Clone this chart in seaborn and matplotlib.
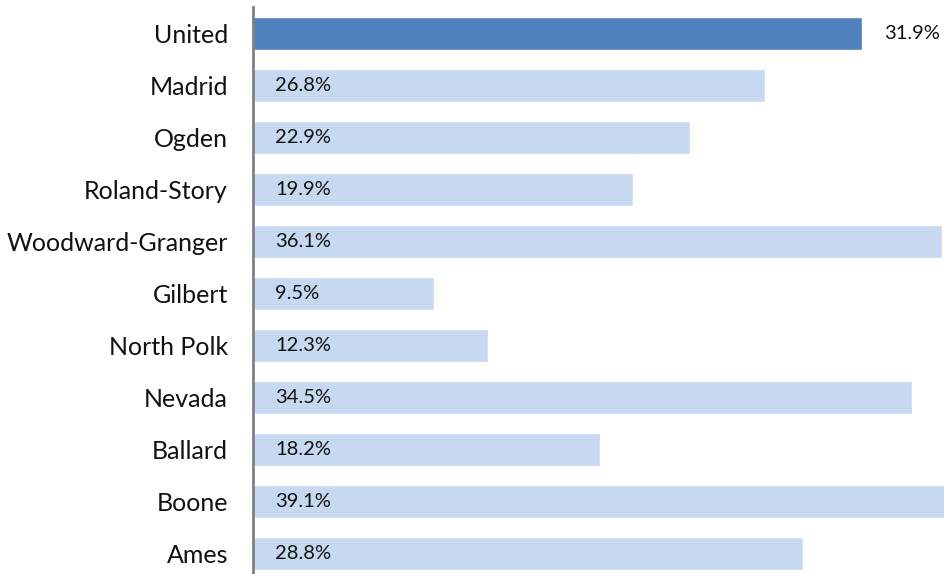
import pandas as pd
import numpy as np
import matplotlib.pyplot as plt
import seaborn as sns

# Chart values
districts = ["United", "Madrid", "Ogden", "Roland-Story", "Woodward-Granger",
             "Gilbert", "North Polk", "Nevada", "Ballard", "Boone", "Ames"]
pct = [31.9, 26.8, 22.9, 19.9, 36.1, 9.5, 12.3, 34.5, 18.2, 39.1, 28.8]
highlight = "United"

df = pd.DataFrame({"District": districts, "Pct": pct})
df["Group"] = np.where(df["District"] == highlight, "hi", "lo")

sns.set_style("white")
plt.rcParams['font.family'] = ['Lato', 'DejaVu Sans']

fig = plt.figure(figsize=(9.45, 5.74), dpi=100)
ax = fig.add_axes([253 / 945, 0.0, 692 / 945, 566.5 / 574])

sns.barplot(data=df, x="Pct", y="District", hue="Group", dodge=False,
            palette={"hi": "#4F81BD", "lo": "#C6D9F1"}, width=0.64,
            saturation=1, legend=False, ax=ax, order=districts)

ax.set_xlim(0, 36.25)
ax.set_ylim(10.394, -0.5)
ax.set_xlabel("")
ax.set_ylabel("")
ax.set_xticks([])
ax.tick_params(axis="y", length=0, labelsize=18, pad=18, labelcolor="#111111")

for s in ["top", "right", "bottom"]:
    ax.spines[s].set_visible(False)
ax.spines["left"].set_color("#808080")
ax.spines["left"].set_linewidth(2)

# value labels
for i, (name, v) in enumerate(zip(districts, pct)):
    x0 = v if name == highlight else 0
    ax.annotate(f"{v}%", (x0, i), xytext=(16, 0), textcoords="offset points",
                va="center", ha="left", fontsize=14.5, color="#111111")

fig.savefig("out.png", dpi=100)
